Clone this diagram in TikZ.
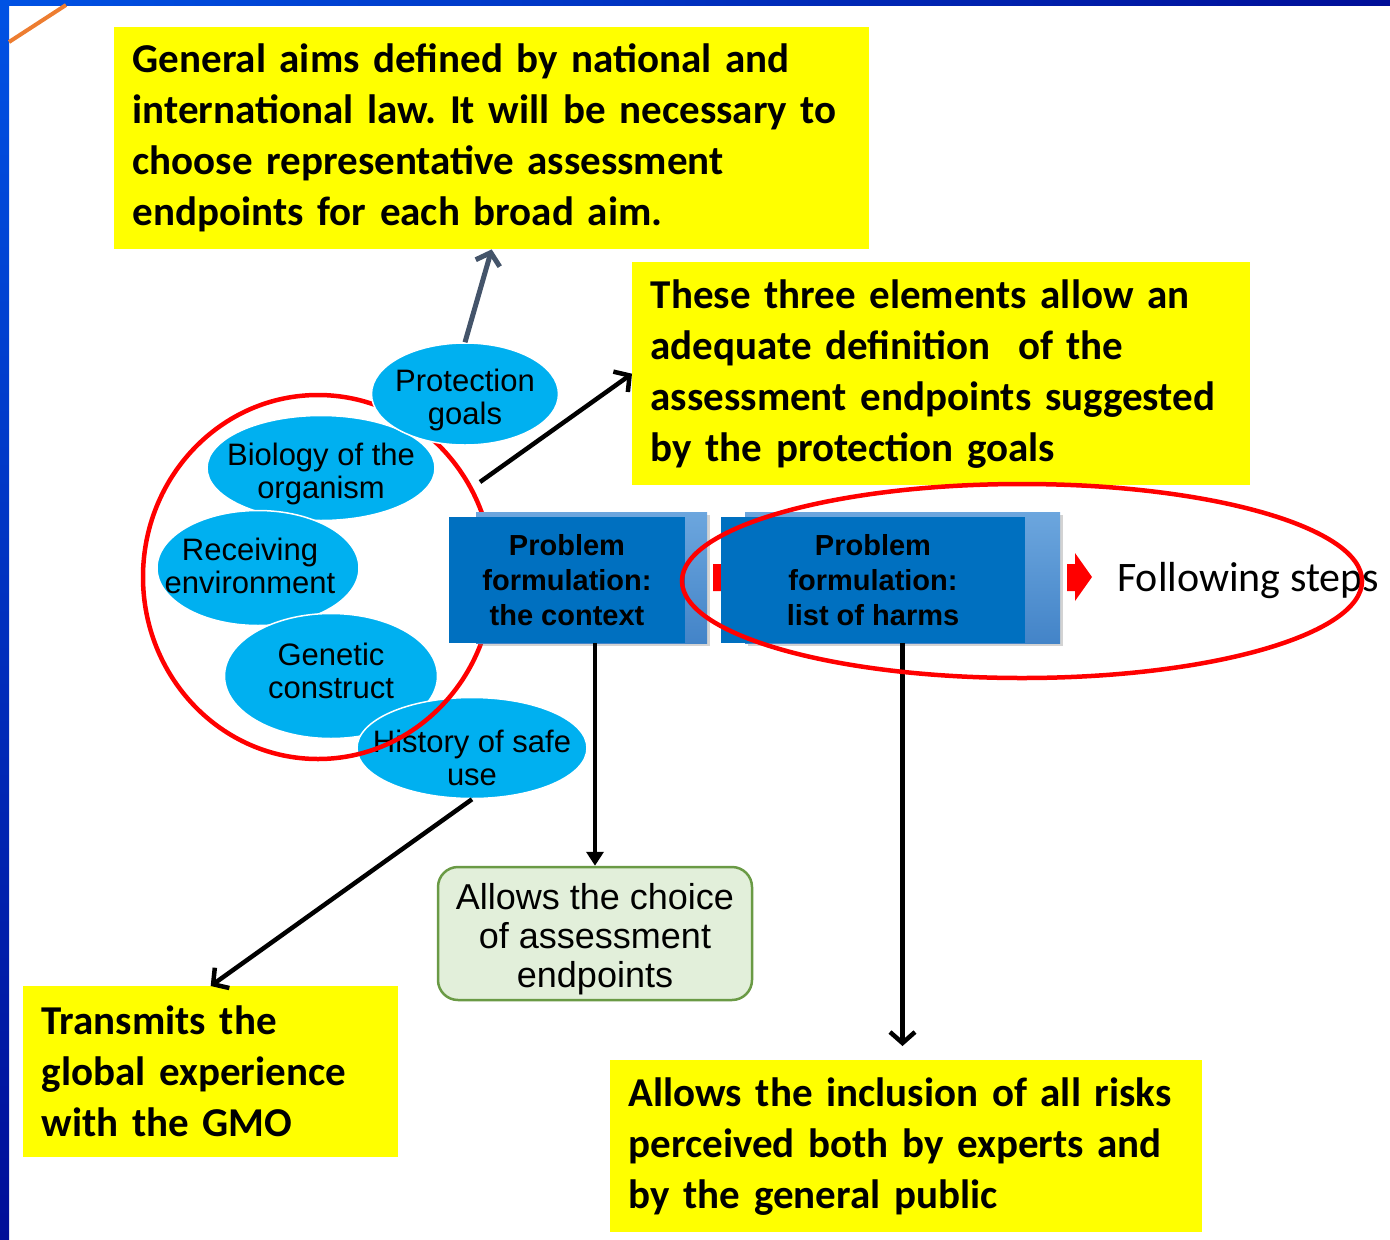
\documentclass[tikz,border=0pt]{standalone}
\usepackage{fontspec}
\setmainfont{Carlito}
\newfontfamily\arialfont{Liberation Sans}
\usetikzlibrary{arrows.meta,shapes.geometric,shadows}
\frenchspacing

\definecolor{noteyellow}{HTML}{FFFF00}
\definecolor{ovalblue}{HTML}{00B0F0}
\definecolor{stepblue}{HTML}{0070C0}
\definecolor{backtop}{HTML}{6CA6DE}
\definecolor{backbottom}{HTML}{4384C8}
\definecolor{choicefill}{HTML}{E2EFDA}
\definecolor{choiceline}{HTML}{6A9A45}
\definecolor{goalarrow}{HTML}{44546A}
\definecolor{framelight}{HTML}{0052E4}
\definecolor{framedark}{HTML}{000E98}
\definecolor{accent}{HTML}{ED7D31}

\begin{document}
\begin{tikzpicture}[x=1pt,y=-1pt,
    note/.style={fill=noteyellow, anchor=north west, align=left, inner xsep=18.5pt, inner ysep=0pt,
      font=\bfseries\fontsize{41}{51}\selectfont},
    oval/.style={ellipse, fill=ovalblue, draw=white, line width=1.5pt, inner sep=0pt},
    ovaltext/.style={align=center, inner sep=0pt, font=\arialfont\fontsize{31}{33}\selectfont},
    stepbox/.style={fill=stepblue, inner sep=0pt, align=center, minimum height=126pt,
      font=\arialfont\bfseries\fontsize{29}{35}\selectfont},
    stepback/.style={top color=backtop, bottom color=backbottom, inner sep=0pt, minimum height=131pt,
      drop shadow={shadow xshift=3pt, shadow yshift=-3pt, opacity=0.35}},
    link/.style={line width=4.5pt, -{Straight Barb[length=11pt,width=25pt]}}]
  \useasboundingbox (0,0) rectangle (1390,1240);

  % slide frame
  \shade[top color=framelight, bottom color=framedark] (0,0) rectangle (9,1240);
  \shade[left color=framelight, right color=framedark] (0,0) rectangle (1390,5);
  \draw[accent, line width=4pt] (9,42) -- (66,5);

  % yellow notes
  \node[note, text width=718pt, minimum height=222pt] (aims) at (114,27)
    {General aims defined by national and\\international law. It will be necessary to\\choose representative assessment\\endpoints for each broad aim.};
  \node[note, text width=581pt, minimum height=223pt] (elements) at (632,262)
    {These three elements allow an\\adequate definition~ of the\\assessment endpoints suggested\\by the protection goals};
  \node[note, text width=338pt, minimum height=171pt] (transmit) at (23,986)
    {Transmits the\\global experience\\with the GMO};
  \node[note, text width=555pt, minimum height=172pt] (public) at (610,1060)
    {Allows the inclusion of all risks\\perceived both by experts and\\by the general public};

  % context ovals
  \node[oval, minimum width=228pt, minimum height=105pt,
    label={[ovaltext, yshift=-6pt]center:Biology of the\\organism}] (bio) at (321,468) {};
  \node[oval, minimum width=202pt, minimum height=115pt,
    label={[ovaltext, xshift=-8pt, yshift=2pt]center:Receiving\\environment}] (env) at (258,568) {};
  \node[oval, minimum width=213pt, minimum height=125pt,
    label={[ovaltext, yshift=5pt]center:Genetic\\construct}] (gen) at (331,676) {};
  \node[oval, minimum width=230pt, minimum height=101pt,
    label={[ovaltext, yshift=-10pt]center:History of safe\\use}] (hist) at (472,748) {};
  \draw[red, line width=4.5pt] (318,577) ellipse [x radius=175pt, y radius=182pt];
  \node[oval, minimum width=187pt, minimum height=102pt,
    label={[ovaltext, yshift=-6pt]center:Protection\\goals}] (prot) at (465,394) {};

  % arrows out of the ovals
  \coordinate (circ) at (480,482);
  \draw[link, goalarrow, line width=5pt] (prot.north) -- (aims.south);
  \draw[link] (circ) -- (elements.west);
  \draw[link] (hist.south) -- (transmit.north);

  % problem formulation steps
  \node[stepback, minimum width=231pt] (ctxback) at (591.5,577.5) {};
  \node[stepback, minimum width=315pt] (harmsback) at (902.5,577.5) {};
  \foreach \x in {713,1067}
    \fill[red] (\x,564) -- (\x+8,564) -- (\x+8,553) -- (\x+25,577) -- (\x+8,601) -- (\x+8,591) -- (\x,591) -- cycle;
  \node[stepbox, minimum width=236pt] (ctx) at (567,580) {Problem\\formulation:\\the context};
  \node[stepbox, minimum width=304pt] (harms) at (873,580) {Problem\\formulation:\\list of harms};
  \node[anchor=west, inner sep=0pt, font=\fontsize{42}{50}\selectfont] (next) at (1117,581) {Following steps};

  \node[draw=choiceline, fill=choicefill, line width=2.5pt, rounded corners=20pt, inner sep=0pt,
    minimum width=314pt, minimum height=133pt,
    label={[align=center, inner sep=0pt, yshift=-6pt, font=\arialfont\fontsize{36}{39}\selectfont]center:Allows the choice\\of assessment\\endpoints}]
    (choice) at (595,933.5) {};

  \draw[line width=4.5pt, -{Triangle[length=14pt,width=17pt]}] (ctxback.south -| choice.north) -- (choice.north);
  \draw[link, shorten >=14pt] (harmsback.south) -- (harmsback.south |- public.north);

  \draw[red, line width=4.5pt] (1022,581) ellipse [x radius=340pt, y radius=97pt];
\end{tikzpicture}
\end{document}
